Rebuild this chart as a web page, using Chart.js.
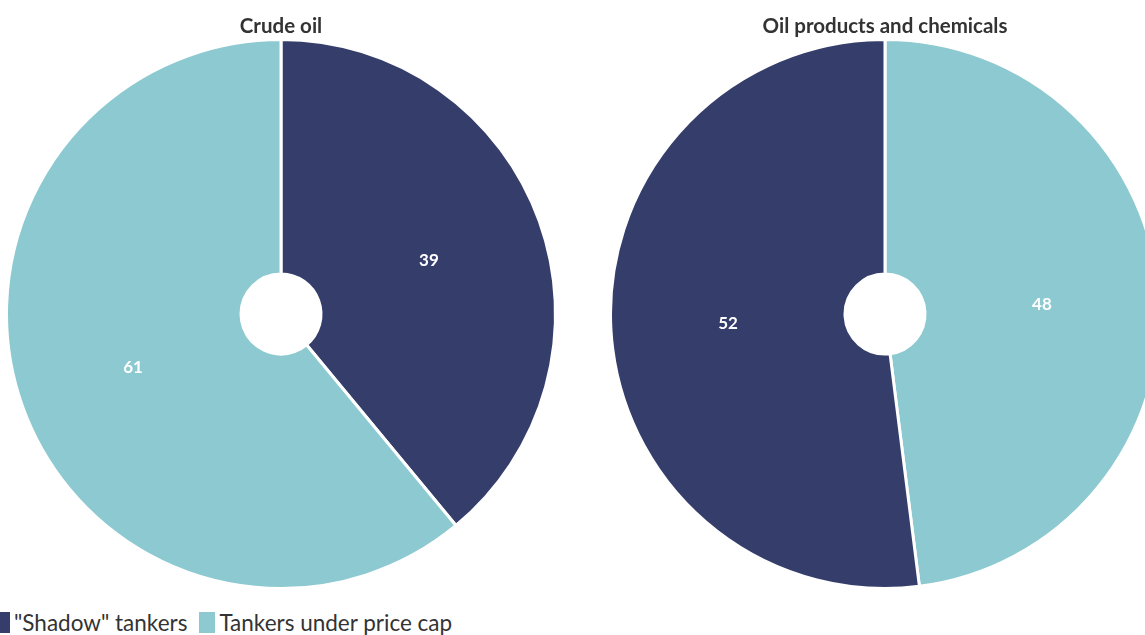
<!DOCTYPE html>
<html>
<head>
<meta charset="utf-8">
<script src="https://cdn.jsdelivr.net/npm/chart.js@4/dist/chart.umd.min.js"></script>
<style>
  html, body { margin: 0; padding: 0; background: #fff; }
  body { width: 1145px; height: 635px; overflow: hidden; position: relative; font-family: Lato, "Open Sans", sans-serif; }
  .pie { position: absolute; top: 0; width: 562px; height: 590px; }
  #crudeWrap { left: 0; }
  #productsWrap { left: 604px; }
  .legend { position: absolute; left: -6px; top: 609px; display: flex; align-items: center; font-size: 22.5px; color: #333; }
  .legend span.box { display: inline-block; width: 16px; height: 21px; margin-right: 4px; }
  .legend span.item { display: inline-flex; align-items: center; margin-right: 12px; }
</style>
</head>
<body>
<div id="crudeWrap" class="pie"><canvas id="crudeChart"></canvas></div>
<div id="productsWrap" class="pie"><canvas id="productsChart"></canvas></div>
<div class="legend" id="legend"></div>
<script>
const seriesNames = ['"Shadow" tankers', "Tankers under price cap"];
const seriesColors = ["#353e6b", "#8dc9d1"];

// crude oil: shadow first, products: price cap first (both clockwise from top)
const crudeLabels = ['"Shadow" tankers', "Tankers under price cap"];
const crudeValues = [39, 61];
const productsLabels = ["Tankers under price cap", '"Shadow" tankers'];
const productsValues = [48, 52];

const colorFor = (name) => seriesColors[seriesNames.indexOf(name)];

// write each slice value in the middle of its arc
const sliceValues = {
  id: "sliceValues",
  afterDatasetsDraw(chart) {
    const ctx = chart.ctx;
    const meta = chart.getDatasetMeta(0);
    ctx.save();
    ctx.fillStyle = "#fff";
    ctx.font = "bold 17px Lato, sans-serif";
    ctx.textAlign = "center";
    ctx.textBaseline = "middle";
    meta.data.forEach((arc, i) => {
      const pos = arc.tooltipPosition();
      ctx.fillText(chart.data.datasets[0].data[i], pos.x, pos.y);
    });
    ctx.restore();
  },
};

const makePie = (canvasId, title, labels, values) => {
  return new Chart(document.getElementById(canvasId), {
    type: "doughnut",
    data: {
      labels: labels,
      datasets: [
        {
          data: values,
          backgroundColor: labels.map(colorFor),
          borderColor: "#fff",
          borderWidth: 3,
          hoverOffset: 0,
        },
      ],
    },
    options: {
      responsive: true,
      maintainAspectRatio: false,
      animation: false,
      cutout: 40,
      layout: { padding: 0 },
      plugins: {
        legend: { display: false },
        tooltip: { enabled: false },
        title: {
          display: true,
          text: title,
          color: "#333",
          font: { family: "Lato, sans-serif", size: 20.5, weight: "bold", lineHeight: 1 },
          padding: { top: 16, bottom: 1.5 },
        },
      },
    },
    plugins: [sliceValues],
  });
};

makePie("crudeChart", "Crude oil", crudeLabels, crudeValues);
makePie("productsChart", "Oil products and chemicals", productsLabels, productsValues);

const legend = document.getElementById("legend");
seriesNames.forEach((name, i) => {
  const item = document.createElement("span");
  item.className = "item";
  const box = document.createElement("span");
  box.className = "box";
  box.style.background = seriesColors[i];
  item.appendChild(box);
  item.appendChild(document.createTextNode(name));
  legend.appendChild(item);
});
</script>
</body>
</html>
